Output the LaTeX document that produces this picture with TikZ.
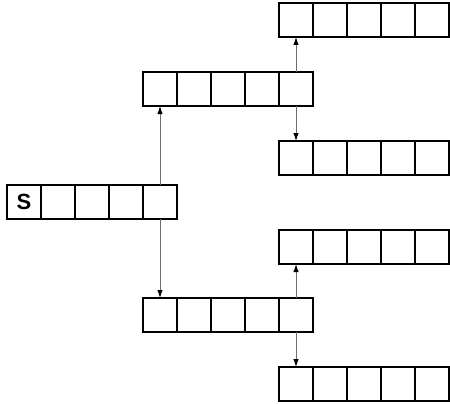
\documentclass[tikz,border=0pt]{standalone}
\usepackage{fontspec}
\setmainfont{Liberation Sans}
\usetikzlibrary{arrows.meta,positioning}

\tikzset{
  cell/.style = {draw, line width = 2.2pt, minimum size = 34pt, inner sep = 0pt,
                 outer sep = 0pt},
  link/.style = {draw = gray!85!black, line width = 1pt,
                 -{Latex[length = 8pt, width = 5.5pt, color = black]}}
}

\begin{document}
\begin{tikzpicture}[x = 1pt, y = -1pt]
  \useasboundingbox (0,0) rectangle (450,404);
  % rows of five cells: name / left edge / middle
  \foreach \r/\lx/\my in {s/7/202, u/143/89, d/143/315,
                          uu/279/20, ud/279/158, du/279/247, dd/279/384}{
    \node[cell](\r-1)at(\lx+17,\my){};
    \foreach \i [evaluate = \i as \j using int(\i-1)] in {2,...,5}
      \node[cell, right = 0pt of \r-\j](\r-\i){};
  }
  % start cell
  \node at (s-1){\bfseries\fontsize{22}{22}\selectfont S};
  % branches
  \path[link](s-5.north)to(u-1.south);
  \path[link](s-5.south)to(d-1.north);
  \path[link](u-5.north)to(uu-1.south);
  \path[link](u-5.south)to(ud-1.north);
  \path[link](d-5.north)to(du-1.south);
  \path[link](d-5.south)to(dd-1.north);
\end{tikzpicture}
\end{document}
